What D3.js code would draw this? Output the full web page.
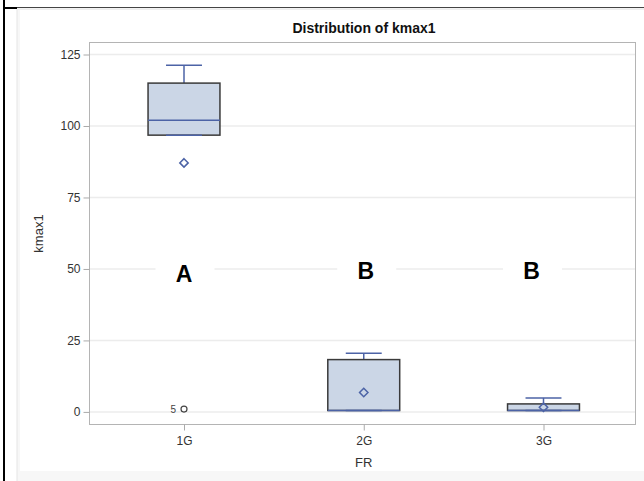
<!DOCTYPE html>
<html>
<head>
<meta charset="utf-8">
<script src="https://cdn.jsdelivr.net/npm/d3@7"></script>
<style>
  body { margin: 0; background: #fff; }
  svg { display: block; }
</style>
</head>
<body>
<div id="chart"></div>
<script>
// box statistics per FR group
let groups = ["1G", "2G", "3G"];
let whiskerLow = [96.8, 0.5, 0.5];
let q1 = [96.8, 0.5, 0.5];
let median = [102, 0.5, 0.5];
let q3 = [115, 18.3, 2.8];
let whiskerHigh = [121.2, 20.5, 4.9];
let means = [87.1, 6.8, 1.6];

// outliers
let outlierGroup = ["1G"];
let outlierValue = [1];
let outlierLabel = ["5"];

// letters pasted over the chart
let letters = ["A", "B", "B"];
let letterValue = [45.5, 46.5, 46.5];
let letterShift = [0, 2, -12];

let yTicks = [0, 25, 50, 75, 100, 125];

let w = 644;
let h = 481;
let pLeft = 89.5, pRight = 635.5, pTop = 42.5, pBottom = 424.5;

let svg = d3.select("#chart")
    .append("svg")
    .attr("width", w)
    .attr("height", h);

// page border and card
svg.append("rect").attr("x", 17).attr("y", 9).attr("width", 640).attr("height", 480)
    .attr("fill", "#f7f7f7").attr("stroke", "#e6e6e6");
svg.append("rect").attr("x", 20).attr("y", 10).attr("width", 624).attr("height", 461)
    .attr("fill", "#fff");
svg.append("line").attr("x1", 17).attr("x2", w).attr("y1", 7.5).attr("y2", 7.5)
    .attr("stroke", "#444").attr("stroke-width", 1);
svg.append("line").attr("x1", 4).attr("x2", 17).attr("y1", 8).attr("y2", 8)
    .attr("stroke", "#000").attr("stroke-width", 2);
svg.append("line").attr("x1", 4).attr("x2", 4).attr("y1", 0).attr("y2", h)
    .attr("stroke", "#000").attr("stroke-width", 2);

let x = d3.scalePoint()
    .domain(groups)
    .range([pLeft + 94.5, pRight - 92]);
let step = x.step();
let boxW = step * 0.4;

let y = d3.scaleLinear()
    .domain([-4.4, 129.2])
    .range([pBottom, pTop]);

// grid
svg.append("g")
    .selectAll("line")
    .data(yTicks)
    .enter()
    .append("line")
    .attr("x1", pLeft)
    .attr("x2", pRight)
    .attr("y1", function (d) { return y(d); })
    .attr("y2", function (d) { return y(d); })
    .attr("stroke", "#ececec")
    .attr("stroke-width", 1.5);

// white masks behind letters
let letterG = svg.append("g");
letterG.selectAll("rect")
    .data(letters)
    .enter()
    .append("rect")
    .attr("x", function (d, i) { return x(groups[i]) + letterShift[i] + 1 - 29.5; })
    .attr("y", function (d, i) { return y(letterValue[i]) - 22; })
    .attr("width", 59)
    .attr("height", 28)
    .attr("fill", "#fff");

// frame
svg.append("rect")
    .attr("x", pLeft).attr("y", pTop)
    .attr("width", pRight - pLeft).attr("height", pBottom - pTop)
    .attr("fill", "none").attr("stroke", "#b4b4b4").attr("stroke-width", 1);

// y axis
let yAxis = svg.append("g")
    .attr("transform", "translate(" + pLeft + ",0)")
    .call(d3.axisLeft(y).tickValues(yTicks).tickSize(6).tickPadding(3));
yAxis.select(".domain").remove();
yAxis.selectAll(".tick line").attr("stroke", "#aaa");
yAxis.selectAll("text")
    .attr("fill", "#333")
    .attr("font-family", "Liberation Sans, Arial, sans-serif")
    .attr("font-size", "12px");

// x axis
let xAxis = svg.append("g")
    .attr("transform", "translate(0," + pBottom + ")")
    .call(d3.axisBottom(x).tickSize(6).tickPadding(6));
xAxis.select(".domain").remove();
xAxis.selectAll(".tick line").attr("stroke", "#aaa");
xAxis.selectAll("text")
    .attr("fill", "#333")
    .attr("font-family", "Liberation Sans, Arial, sans-serif")
    .attr("font-size", "12px");

// axis titles
svg.append("text")
    .text("FR")
    .attr("x", x("2G"))
    .attr("y", 467)
    .attr("text-anchor", "middle")
    .attr("font-family", "Liberation Sans, Arial, sans-serif")
    .attr("font-size", "13px")
    .attr("fill", "#333");

svg.append("text")
    .text("kmax1")
    .attr("transform", "translate(43," + ((pTop + pBottom) / 2) + ") rotate(-90)")
    .attr("text-anchor", "middle")
    .attr("font-family", "Liberation Sans, Arial, sans-serif")
    .attr("font-size", "13px")
    .attr("fill", "#333");

svg.append("text")
    .text("Distribution of kmax1")
    .attr("x", 364)
    .attr("y", 32.5)
    .attr("text-anchor", "middle")
    .attr("font-family", "Liberation Sans, Arial, sans-serif")
    .attr("font-weight", "bold")
    .attr("font-size", "14px")
    .attr("fill", "#111");

// boxes
let boxes = svg.append("g")
    .selectAll("g")
    .data(groups)
    .enter()
    .append("g");

boxes.append("line")
    .attr("x1", function (d) { return x(d); })
    .attr("x2", function (d) { return x(d); })
    .attr("y1", function (d, i) { return y(whiskerHigh[i]); })
    .attr("y2", function (d, i) { return y(q3[i]); })
    .attr("stroke", "#4c63a6").attr("stroke-width", 1.5);

boxes.append("line")
    .attr("x1", function (d) { return x(d); })
    .attr("x2", function (d) { return x(d); })
    .attr("y1", function (d, i) { return y(whiskerLow[i]); })
    .attr("y2", function (d, i) { return y(q1[i]); })
    .attr("stroke", "#4c63a6").attr("stroke-width", 1.5);

boxes.append("rect")
    .attr("x", function (d) { return x(d) - boxW / 2; })
    .attr("y", function (d, i) { return y(q3[i]); })
    .attr("width", boxW)
    .attr("height", function (d, i) { return y(q1[i]) - y(q3[i]); })
    .attr("fill", "#cbd6e6")
    .attr("stroke", "#3a3a3a")
    .attr("stroke-width", 1.5);

boxes.append("line")
    .attr("x1", function (d) { return x(d) - boxW / 2; })
    .attr("x2", function (d) { return x(d) + boxW / 2; })
    .attr("y1", function (d, i) { return y(median[i]); })
    .attr("y2", function (d, i) { return y(median[i]); })
    .attr("stroke", "#4c63a6").attr("stroke-width", 1.5);

// whisker caps
boxes.append("line")
    .attr("x1", function (d) { return x(d) - boxW / 4; })
    .attr("x2", function (d) { return x(d) + boxW / 4; })
    .attr("y1", function (d, i) { return y(whiskerHigh[i]); })
    .attr("y2", function (d, i) { return y(whiskerHigh[i]); })
    .attr("stroke", "#4c63a6").attr("stroke-width", 1.5);

boxes.append("line")
    .attr("x1", function (d) { return x(d) - boxW / 4; })
    .attr("x2", function (d) { return x(d) + boxW / 4; })
    .attr("y1", function (d, i) { return y(whiskerLow[i]); })
    .attr("y2", function (d, i) { return y(whiskerLow[i]); })
    .attr("stroke", "#4c63a6").attr("stroke-width", 1.5);

// mean diamonds
boxes.append("path")
    .attr("d", d3.symbol().type(d3.symbolDiamond2).size(45))
    .attr("transform", function (d, i) { return "translate(" + x(d) + "," + y(means[i]) + ")"; })
    .attr("fill", "none")
    .attr("stroke", "#4c63a6")
    .attr("stroke-width", 1.5);

// outliers
let outs = svg.append("g")
    .selectAll("g")
    .data(outlierValue)
    .enter()
    .append("g");

outs.append("circle")
    .attr("cx", function (d, i) { return x(outlierGroup[i]); })
    .attr("cy", function (d) { return y(d); })
    .attr("r", 3)
    .attr("fill", "none")
    .attr("stroke", "#444")
    .attr("stroke-width", 1.2);

outs.append("text")
    .text(function (d, i) { return outlierLabel[i]; })
    .attr("x", function (d, i) { return x(outlierGroup[i]) - 8; })
    .attr("y", function (d) { return y(d) + 4; })
    .attr("text-anchor", "end")
    .attr("font-family", "Liberation Sans, Arial, sans-serif")
    .attr("font-size", "10px")
    .attr("fill", "#444");

// letters
letterG.selectAll("text")
    .data(letters)
    .enter()
    .append("text")
    .text(function (d) { return d; })
    .attr("x", function (d, i) { return x(groups[i]) + letterShift[i]; })
    .attr("y", function (d, i) { return y(letterValue[i]); })
    .attr("text-anchor", "middle")
    .attr("font-family", "Liberation Sans, Arial, sans-serif")
    .attr("font-weight", "bold")
    .attr("font-size", "23px")
    .attr("fill", "#000");
</script>
</body>
</html>
